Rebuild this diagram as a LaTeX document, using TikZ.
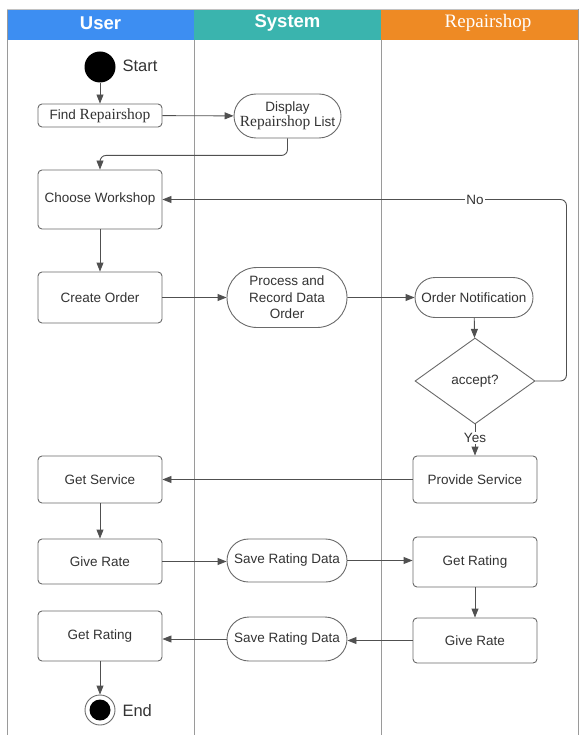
\documentclass[tikz,border=0pt]{standalone}
\usepackage{fontspec}
\setmainfont{Liberation Sans}
\newfontfamily\tms{Liberation Serif}
\usetikzlibrary{shapes.misc,shapes.geometric,arrows.meta}
\definecolor{hblue}{HTML}{3D8EF2}
\definecolor{hteal}{HTML}{3AB4AE}
\definecolor{horange}{HTML}{EE8A24}
\definecolor{lanec}{HTML}{9A9A9A}
\definecolor{edgec}{HTML}{6A6A6A}
\definecolor{linec}{HTML}{505050}
\definecolor{txtc}{HTML}{333333}
\tikzset{
  basefont/.style={font=\fontsize{13.5}{16.5}\selectfont, text=txtc},
  act/.style={basefont, draw=edgec, line width=0.9pt, rectangle, rounded corners=4pt,
    minimum width=124pt, inner sep=2pt, align=center, fill=white},
  stad/.style={basefont, draw=edgec, line width=0.9pt, rounded rectangle,
    inner sep=2pt, align=center, fill=white},
  dec/.style={basefont, draw=edgec, line width=0.9pt, diamond, minimum width=120pt,
    minimum height=86pt, inner sep=0pt, fill=white},
  arr/.style={draw=linec, line width=0.9pt, -{Triangle[length=9pt,width=7pt]}},
  lbl/.style={basefont, fill=white, inner sep=1pt},
  hdr/.style={text=white, font=\fontsize{18.5}{20}\selectfont\bfseries},
  lane/.style={draw=lanec, line width=0.9pt}
}
\begin{document}
\begin{tikzpicture}[x=1pt,y=-1pt]
\useasboundingbox (0,0) rectangle (580,735);
% headers
\fill[hblue] (7,9) rectangle (194,40);
\fill[hteal] (194,9) rectangle (381,40);
\fill[horange] (381,9) rectangle (578,40);
\node[hdr] (hu) at (100.5,23) {User};
\node[hdr] (hs) at (287.5,23) {System};
\node[text=white, font=\tms\fontsize{19}{20}\selectfont] (hr) at (488,23) {Repairshop};
% lanes
\draw[lane] (7,9) -- (7,735);
\draw[lane] (194,40) -- (194,735);
\draw[lane] (381,40) -- (381,735);
\draw[lane] (578,9) -- (578,735);
\draw[lane, draw=lanec!60] (7,9) -- (578,9);
% start
\node[circle, fill=black, minimum size=31pt, inner sep=0pt] (start) at (100,67) {};
\node[font=\fontsize{16.5}{18}\selectfont, text=txtc, anchor=west] (startl) at (119,66) {Start};
% nodes
\node[act, minimum height=23pt] (find) at (100,115.5) {Find {\tms\fontsize{15.5}{16}\selectfont Repairshop}};
\node[stad, minimum width=109pt, minimum height=44pt, inner sep=1pt] (disp) at (287.5,116) {Display\\[-2pt]{\tms\fontsize{15.5}{16}\selectfont Repairshop} List};
\node[act, minimum height=59pt] (choose) at (100,199.5) {Choose Workshop};
\node[act, minimum height=51pt] (create) at (100,297.5) {Create Order};
\node[stad, minimum width=124pt, minimum height=60pt] (proc) at (287,297.5) {Process and\\Record Data\\Order};
\node[stad, minimum width=122pt, minimum height=40pt] (notif) at (474,297.5) {Order Notification};
\node[dec] (acc) at (475,381) {accept?};
\node[act, minimum height=47pt] (prov) at (475,479.5) {Provide Service};
\node[act, minimum height=47pt] (gets) at (100,479.5) {Get Service};
\node[act, minimum height=45pt] (giveu) at (100,561.5) {Give Rate};
\node[stad, minimum width=124pt, minimum height=43pt] (save1) at (287,560.5) {Save Rating Data};
\node[act, minimum height=50pt] (getrr) at (475,562) {Get Rating};
\node[act, minimum height=45pt] (giver) at (475,640.5) {Give Rate};
\node[stad, minimum width=124pt, minimum height=44pt] (save2) at (287,639) {Save Rating Data};
\node[act, minimum height=50pt] (getru) at (100,636) {Get Rating};
% end
\node[circle, draw=edgec, line width=0.9pt, fill=white, minimum size=30pt, inner sep=0pt] (endo) at (100,710) {};
\node[circle, fill=black, minimum size=21pt, inner sep=0pt] (endi) at (100,710) {};
\node[font=\fontsize{16.5}{18}\selectfont, text=txtc, anchor=west] (endl) at (119,711) {End};
% connectors
\draw[arr] (start) -- (find);
\draw[arr] (find) -- (disp);
\draw[arr, rounded corners=6pt] (disp.south) -- ++(0,17) -| (choose.north);
\draw[arr] (choose) -- (create);
\draw[arr] (create) -- (proc);
\draw[arr] (proc) -- (notif);
\draw[arr] (notif) -- (acc);
\draw[arr, rounded corners=6pt] (acc.east) -- ++(31,0) |- (choose.east);
\node[lbl] (no) at (acc.north |- choose.east) {No};
\draw[arr] (acc.south) -- (prov.north);
\node[lbl] (yes) at (475,438) {Yes};
\draw[arr] (prov) -- (gets);
\draw[arr] (gets) -- (giveu);
\draw[arr] (giveu) -- (save1.west |- giveu.east);
\draw[arr] (save1.east) -- (getrr.west |- save1.east);
\draw[arr] (getrr) -- (giver);
\draw[arr] (giver.west) -- (save2.east |- giver.west);
\draw[arr] (save2.west) -- (getru.east |- save2.west);
\draw[arr] (getru) -- (endo);
\end{tikzpicture}
\end{document}
